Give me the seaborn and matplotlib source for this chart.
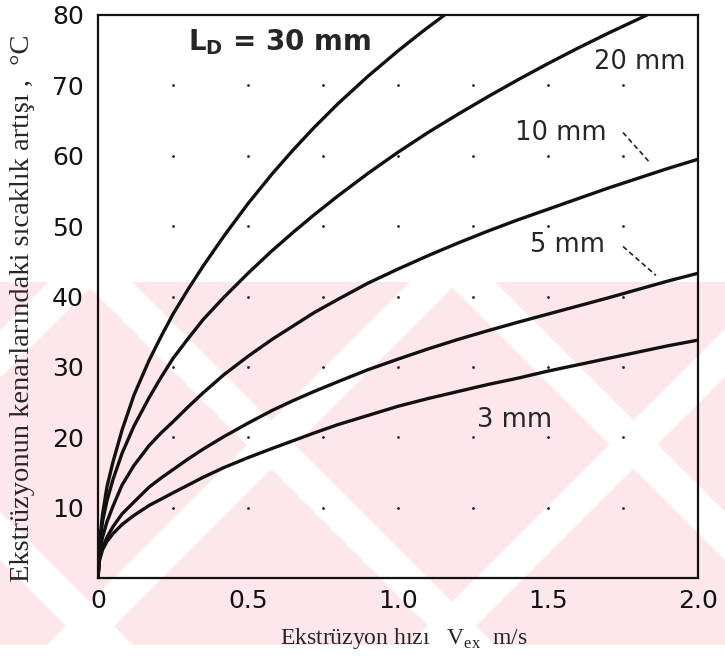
import matplotlib
matplotlib.use("Agg")
import matplotlib.pyplot as plt
import seaborn as sns
import numpy as np
import pandas as pd
from matplotlib.patches import Polygon, Rectangle

# --- data ---
x_30 = [0, 0.005, 0.015, 0.03, 0.05, 0.08, 0.12, 0.17, 0.21, 0.25, 0.3, 0.35, 0.42, 0.5,
        0.58, 0.65, 0.72, 0.8, 0.9, 1.0, 1.08, 1.155]
y_30 = [0, 5, 9, 13, 16.5, 21, 26, 30.9, 34.3, 37.5, 41, 44.3, 48.6, 53.2,
        57.4, 60.8, 64, 67.4, 71.3, 74.9, 77.6, 80]

x_20 = [0, 0.005, 0.015, 0.03, 0.05, 0.08, 0.12, 0.17, 0.21, 0.25, 0.3, 0.35, 0.42, 0.5,
        0.58, 0.65, 0.72, 0.8, 0.9, 1.0, 1.1, 1.2, 1.3, 1.4, 1.5, 1.6, 1.7, 1.8, 1.83]
y_20 = [0, 4.5, 8, 11, 14, 17.7, 21.6, 25.6, 28.5, 31.2, 34, 36.7, 39.9, 43.3,
        46.5, 49.1, 51.6, 54.3, 57.5, 60.5, 63.3, 65.9, 68.4, 70.8, 73.1, 75.3, 77.4, 79.4, 80]

# the three thinner dies share the same read-off x positions
x_low = [0, 0.005, 0.015, 0.03, 0.05, 0.08, 0.12, 0.17, 0.21, 0.25, 0.3, 0.35, 0.42, 0.5,
         0.58, 0.65, 0.72, 0.8, 0.9, 1.0, 1.1, 1.2, 1.3, 1.4, 1.5, 1.6, 1.7, 1.8, 1.9, 2.0]
y_10 = [0, 3.5, 5.8, 8, 10.2, 13.2, 16, 18.8, 20.6, 22.2, 24.3, 26.3, 28.9, 31.5,
        33.9, 35.8, 37.7, 39.6, 41.9, 43.9, 45.8, 47.6, 49.3, 50.9, 52.4, 53.9, 55.4, 56.8, 58.2, 59.5]
y_5 = [0, 2.8, 4.3, 5.8, 7.3, 9.1, 10.8, 12.9, 14.2, 15.4, 16.9, 18.3, 20.1, 22,
       23.8, 25.2, 26.5, 27.9, 29.6, 31.1, 32.55, 33.9, 35.15, 36.35, 37.5, 38.65, 39.8, 41, 42.2, 43.3]
y_3 = [0, 2.5, 4, 5.2, 6.3, 7.6, 8.9, 10.3, 11.2, 12.1, 13.2, 14.3, 15.7, 17.1,
       18.4, 19.5, 20.6, 21.8, 23.1, 24.4, 25.5, 26.5, 27.5, 28.4, 29.4, 30.3, 31.2, 32.1, 33, 33.8]

x_ticks = [0, 0.5, 1.0, 1.5, 2.0]
x_ticklabels = ["0", "0.5", "1.0", "1.5", "2.0"]
y_ticks = [10, 20, 30, 40, 50, 60, 70, 80]
grid_x = [0.25, 0.5, 0.75, 1.0, 1.25, 1.5, 1.75]
grid_y = [10, 20, 30, 40, 50, 60, 70]

curves = [("30 mm", x_30, y_30), ("20 mm", x_20, y_20), ("10 mm", x_low, y_10),
          ("5 mm", x_low, y_5), ("3 mm", x_low, y_3)]
df = pd.concat([pd.DataFrame({"v": xs, "dT": ys, "LD": name}) for name, xs, ys in curves])

sns.set_style("white")
plt.rcParams['font.family'] = ['DejaVu Sans']

fig = plt.figure(figsize=(7.25, 6.56), dpi=100, facecolor='white')

# faint pink watermark behind everything (figure pixel coords)
bg = fig.add_axes([0, 0, 1, 1], zorder=-1)
bg.set_xlim(0, 725)
bg.set_ylim(656, 0)
bg.axis("off")
pink = "#fde7eb"
band = Rectangle((0, 282), 725, 363, color=pink, lw=0)
bg.add_patch(band)
w = 48
for x0 in [48, 410, 772, 1134]:
    p = Polygon([(x0, 282), (x0 + w, 282), (x0 + w - 363, 645), (x0 - 363, 645)],
                color="white", lw=0)
    bg.add_patch(p)
    p.set_clip_path(band)
for x0 in [-278, 84, 447]:
    p = Polygon([(x0, 282), (x0 + w, 282), (x0 + w + 363, 645), (x0 + 363, 645)],
                color="white", lw=0)
    bg.add_patch(p)
    p.set_clip_path(band)

ax = fig.add_axes([98 / 725, 1 - 578 / 656, 600 / 725, 563 / 656])
ax.patch.set_alpha(0)

sns.lineplot(data=df, x="v", y="dT", units="LD", estimator=None, sort=False,
             color="#111111", lw=2.4, ax=ax, legend=False)
for ln in ax.lines:
    ln.set_solid_joinstyle("round")

gx, gy = np.meshgrid(grid_x, grid_y)
ax.scatter(gx.ravel(), gy.ravel(), s=4, color="#222222", lw=0, zorder=1)

ax.set_xlim(0, 2.0)
ax.set_ylim(0, 80)
ax.set_xticks(x_ticks)
ax.set_xticklabels(x_ticklabels)
ax.set_yticks(y_ticks)
ax.tick_params(axis="both", length=0, labelsize=18, colors="#111111")
ax.tick_params(axis="x", pad=8)
ax.tick_params(axis="y", pad=10)
for s in ax.spines.values():
    s.set_linewidth(1.6)
    s.set_color("#111111")

serif = ['Liberation Serif', 'DejaVu Serif']
ax.set_xlabel("Ekstrüzyon hızı   V$_{\\mathregular{ex}}$  m/s", family=serif, fontsize=17)
ax.xaxis.set_label_coords(0.51, -0.085)
ax.set_ylabel("Ekstrüzyonun kenarlarındaki sıcaklık artışı ,  °C", family=serif, fontsize=20.5)
ax.yaxis.set_label_coords(-0.105, 0.48)

ax.text(0.30, 76.2, "L$_{\\mathregular{D}}$ = 30 mm", fontsize=20, fontweight="bold", va="center")
ax.text(1.655, 73.3, "20 mm", fontsize=18.5, va="center")
ax.text(1.39, 63.2, "10 mm", fontsize=18.5, va="center")
ax.text(1.44, 47.3, "5 mm", fontsize=18.5, va="center")
ax.text(1.265, 22.5, "3 mm", fontsize=18.5, va="center")
ax.plot([1.75, 1.84], [63.3, 59.0], ls=(0, (3, 2)), color="#222222", lw=1.2)
ax.plot([1.75, 1.86], [47.1, 43.0], ls=(0, (3, 2)), color="#222222", lw=1.2)

fig.savefig("out.png", dpi=100)
